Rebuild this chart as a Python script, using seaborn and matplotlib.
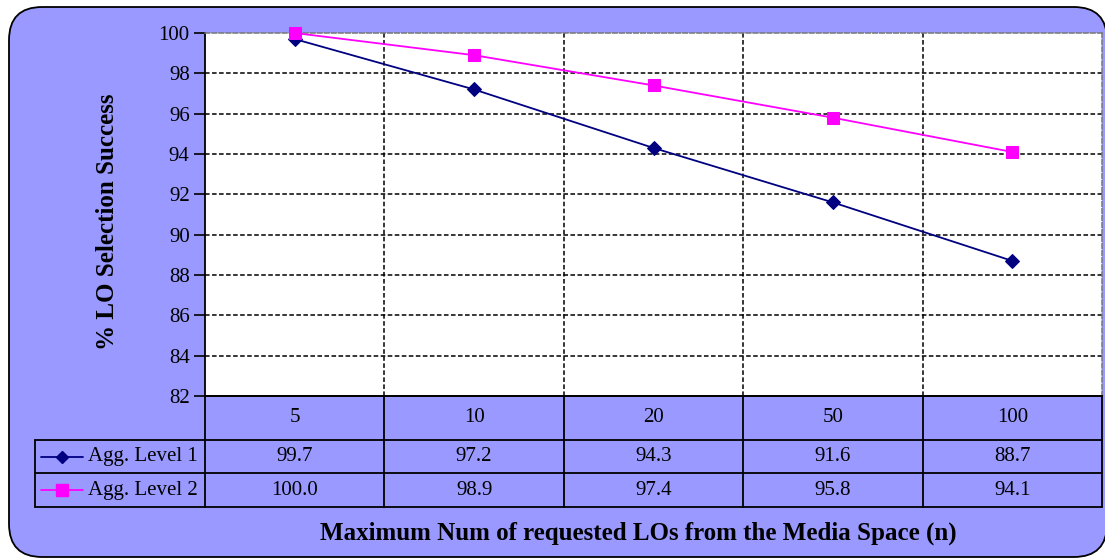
import matplotlib
matplotlib.use("Agg")
import matplotlib.pyplot as plt
from matplotlib.patches import FancyBboxPatch
from matplotlib.lines import Line2D
import seaborn as sns
import pandas as pd

# Data
categories = ["5", "10", "20", "50", "100"]
level1 = [99.7, 97.2, 94.3, 91.6, 88.7]
level2 = [100.0, 98.9, 97.4, 95.8, 94.1]
series_names = ["Agg. Level 1", "Agg. Level 2"]
y_ticks = [82, 84, 86, 88, 90, 92, 94, 96, 98, 100]

sns.set_theme(style="white")
plt.rcParams["font.family"] = ["Liberation Serif", "DejaVu Serif"]
plt.rcParams["text.color"] = "black"
plt.rcParams["ytick.color"] = "black"
plt.rcParams["ytick.labelcolor"] = "black"

BG = "#9999FF"
NAVY = "#000080"
MAGENTA = "#FF00FF"
FS = 15
DASH = (0, (3, 1.6))

W, H = 1105, 558
fig = plt.figure(figsize=(W / 100, H / 100), dpi=100)
fig.patch.set_facecolor("white")


def fx(px):
    return px / W


def fy(py):
    return 1 - py / H


# Rounded chart background
bg = FancyBboxPatch((fx(9), fy(557)), fx(1107) - fx(9), fy(7) - fy(557),
                    boxstyle="round,pad=0,rounding_size=0.03",
                    transform=fig.transFigure, facecolor=BG,
                    edgecolor="black", linewidth=1.3, mutation_aspect=W / H,
                    zorder=-10)
fig.patches.append(bg)

# Plot area
L, R, T, B = 205, 1102, 33, 396
ax = fig.add_axes([fx(L), fy(B), fx(R) - fx(L), fy(T) - fy(B)])
ax.set_facecolor("white")

df = pd.DataFrame({
    "x": list(range(len(categories))) * 2,
    "value": level1 + level2,
    "series": [series_names[0]] * len(categories) + [series_names[1]] * len(categories),
})
sns.lineplot(data=df[df.series == series_names[0]], x="x", y="value", ax=ax,
             color=NAVY, marker="D", markersize=7, markeredgecolor=NAVY,
             linewidth=1.3, legend=False, clip_on=False, zorder=4)
sns.lineplot(data=df[df.series == series_names[1]], x="x", y="value", ax=ax,
             color=MAGENTA, marker="s", markersize=9, markeredgecolor=MAGENTA,
             linewidth=1.3, legend=False, clip_on=False, zorder=5)

ax.set_xlim(-0.5, len(categories) - 0.5)
ax.set_ylim(82, 100)
ax.set_yticks(y_ticks)
ax.set_yticklabels([str(v) for v in y_ticks], fontsize=FS)
ax.set_xticks([])
ax.set_xlabel("")
ax.set_ylabel("")
ax.tick_params(axis="y", direction="out", length=8, width=1.2, color="black",
               left=True, pad=3)

# Dashed grid: horizontal at ticks, vertical at category boundaries
for v in y_ticks[1:-1]:
    ax.axhline(v, color="black", linestyle=DASH, linewidth=1.1, zorder=1)
for b in range(1, len(categories)):
    ax.axvline(b - 0.5, color="black", linestyle=DASH, linewidth=1.1, zorder=1)

for side in ["top", "right"]:
    ax.spines[side].set_color("#777777")
    ax.spines[side].set_linestyle(DASH)
    ax.spines[side].set_linewidth(1.1)
for side in ["left", "bottom"]:
    ax.spines[side].set_color("black")
    ax.spines[side].set_linewidth(1.3)

# Data table below the plot area
TL = 35
ncat = len(categories)
cw = (R - L) / ncat
tab = fig.add_axes([fx(TL), fy(507), fx(R) - fx(TL), fy(396) - fy(507)])
tab.set_xlim(TL, R)
tab.set_ylim(507, 396)
tab.axis("off")
tab.patch.set_alpha(0)

lw = 1.3
row_y = [396, 440, 473, 507]
tab.plot([L, R], [396, 396], color="black", lw=lw, clip_on=False)
for yv in row_y[1:]:
    tab.plot([TL, R], [yv, yv], color="black", lw=lw, clip_on=False)
tab.plot([TL, TL], [440, 507], color="black", lw=lw, clip_on=False)
for i in range(ncat + 1):
    xv = L + i * cw
    tab.plot([xv, xv], [396, 507], color="black", lw=lw, clip_on=False)

for i, c in enumerate(categories):
    cx = L + (i + 0.5) * cw
    tab.text(cx, 418, c, ha="center", va="center", fontsize=FS)
    tab.text(cx, 457, f"{level1[i]:.1f}", ha="center", va="center", fontsize=FS)
    tab.text(cx, 490.5, f"{level2[i]:.1f}", ha="center", va="center", fontsize=FS)

# Legend keys inside the table
for yv, name, col, mk, ms in [(457, series_names[0], NAVY, "D", 6),
                              (490.5, series_names[1], MAGENTA, "s", 9)]:
    tab.add_line(Line2D([41, 83], [yv, yv], color=col, lw=1.3, clip_on=False))
    tab.plot([62], [yv], marker=mk, color=col, markersize=ms, clip_on=False)
    tab.text(88, yv, name, ha="left", va="center", fontsize=FS)

# Axis titles
fig.text(fx(108), fy(222), "% LO Selection Success", rotation=90,
         ha="center", va="center", fontsize=18, fontweight="bold")
fig.text(fx(638), fy(533), "Maximum Num of requested LOs from the Media Space (n)",
         ha="center", va="center", fontsize=18, fontweight="bold")

fig.savefig("out.png", dpi=100, facecolor="white")
